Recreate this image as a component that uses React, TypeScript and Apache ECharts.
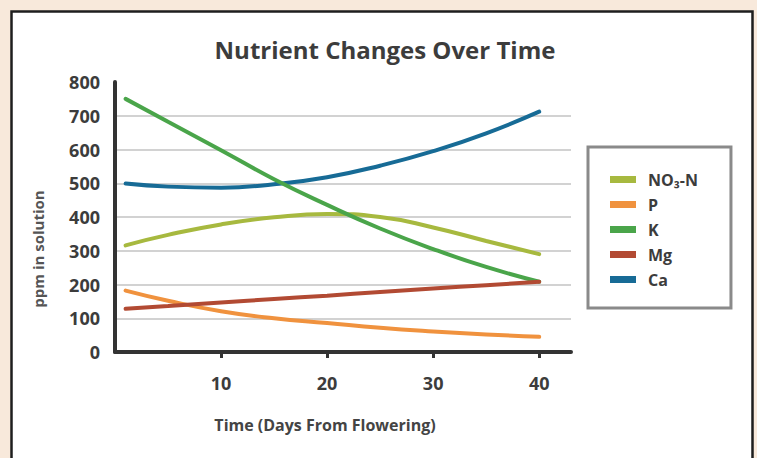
import React, { useEffect, useRef } from "react";
import * as echarts from "echarts";

const days = [1, 5, 10, 15, 20, 25, 30, 35, 40];
const seriesNames = ["NO₃-N", "P", "K", "Mg", "Ca"];
const no3 = [316, 347, 378, 399, 409, 400, 369, 329, 290];
const phos = [182, 152, 121, 100, 86, 72, 61, 52, 45];
const potassium = [750, 682, 598, 512, 436, 366, 305, 252, 208];
const magnesium = [128, 136, 147, 157, 167, 178, 188, 198, 208];
const calcium = [499, 490, 487, 497, 518, 552, 595, 648, 712];
const xTicks = [10, 20, 30, 40];
const colors = ["#a7b93f", "#f0923e", "#4aa54a", "#b24a33", "#176b96"];

const FONT = "'Open Sans', 'DejaVu Sans', sans-serif";

export default function App() {
  const ref = useRef<HTMLDivElement>(null);
  useEffect(() => {
    if (!ref.current) return;
    const chart = echarts.init(ref.current, null, { renderer: "svg" });
    const values = [no3, phos, potassium, magnesium, calcium];
    const drawOrder = [0, 1, 4, 2, 3];
    const series = drawOrder.map((i) => ({
      name: seriesNames[i],
      type: "line",
      data: days.map((d, j) => [d, values[i][j]]),
      smooth: 0.5,
      showSymbol: false,
      symbol: "none",
      lineStyle: { color: colors[i], width: 4, cap: "round" },
      itemStyle: { color: colors[i] },
    }));
    chart.setOption({
      animation: false,
      backgroundColor: "#f8e9db",
      title: {
        text: "Nutrient Changes Over Time",
        left: 380,
        top: 32,
        textAlign: "center",
        textStyle: { fontFamily: FONT, fontSize: 24, fontWeight: "bold", color: "#3c3c3c" },
      },
      graphic: [
        {
          type: "rect",
          z: -10,
          shape: { x: 11.5, y: 11.5, width: 741, height: 470 },
          style: { fill: "#ffffff", stroke: "#1e1e1e", lineWidth: 2.5 },
        },
        {
          type: "text",
          x: 38,
          y: 249,
          rotation: Math.PI / 2,
          style: {
            text: "ppm in solution",
            fontFamily: FONT,
            fontSize: 15,
            fontWeight: "bold",
            fill: "#555555",
            textAlign: "center",
            textVerticalAlign: "middle",
          },
        },
        {
          type: "text",
          x: 325,
          y: 425,
          style: {
            text: "Time (Days From Flowering)",
            fontFamily: FONT,
            fontSize: 16,
            fontWeight: "bold",
            fill: "#444444",
            textAlign: "center",
            textVerticalAlign: "middle",
          },
        },
      ],
      legend: {
        orient: "vertical",
        left: 588,
        top: 147,
        data: seriesNames,
        icon: "rect",
        itemWidth: 26,
        itemHeight: 7,
        itemGap: 8,
        padding: [24, 33, 20, 22],
        backgroundColor: "#ffffff",
        borderColor: "#8a8a8a",
        borderWidth: 3,
        textStyle: {
          fontFamily: FONT,
          fontSize: 16,
          fontWeight: "bold",
          color: "#3c3c3c",
          lineHeight: 17,
          padding: [0, 0, 0, 7],
        },
      },
      grid: { left: 115, right: 186, top: 82, bottom: 106, containLabel: false },
      xAxis: {
        type: "value",
        min: 0,
        max: 43,
        interval: 10,
        axisLine: { show: true, lineStyle: { color: "#333333", width: 4 } },
        axisTick: {
          show: true,
          customValues: xTicks,
          length: 6,
          lineStyle: { color: "#333333", width: 3 },
        },
        axisLabel: {
          customValues: xTicks,
          margin: 22,
          fontFamily: FONT,
          fontSize: 18,
          fontWeight: "bold",
          color: "#3c3c3c",
        },
        splitLine: { show: false },
      },
      yAxis: {
        type: "value",
        min: 0,
        max: 800,
        interval: 100,
        axisLine: { show: true, lineStyle: { color: "#333333", width: 4 } },
        axisTick: { show: false },
        axisLabel: {
          margin: 15,
          fontFamily: FONT,
          fontSize: 18,
          fontWeight: "bold",
          color: "#3c3c3c",
        },
        splitLine: {
          show: true,
          showMinLine: false,
          showMaxLine: false,
          lineStyle: { color: "#d2d2d2", width: 2 },
        },
      },
      series,
    });
    return () => chart.dispose();
  }, []);
  return (
    <div
      ref={ref}
      style={{ position: "fixed", left: 0, top: 0, width: 757, height: 458 }}
    />
  );
}
